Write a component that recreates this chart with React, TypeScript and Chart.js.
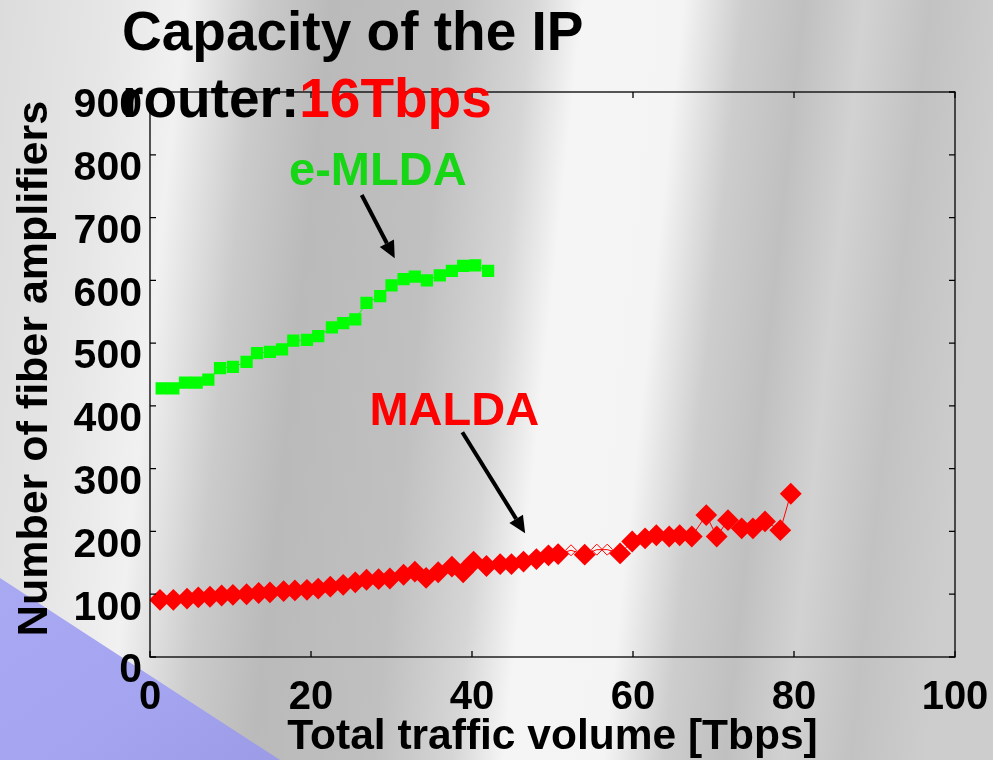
import React, { useEffect, useRef } from 'react';
import { Chart, registerables } from 'chart.js';

Chart.register(...registerables);

// ---- axis ticks ----
const xTicks = [0, 20, 40, 60, 80, 100];
const yTicks = [0, 100, 200, 300, 400, 500, 600, 700, 800, 900];

// ---- e-MLDA series ----
const emldaX = [1.45, 2.9, 4.35, 5.8, 7.25, 8.7, 10.3, 12.0, 13.3, 14.9, 16.4, 17.8, 19.5, 20.9, 22.6, 24.0, 25.5, 26.9, 28.6, 30.0, 31.5, 32.9, 34.4, 36.0, 37.5, 38.9, 40.4, 42.0];
const emldaY = [428, 428, 437, 437, 442, 460, 462, 470, 484, 486, 490, 504, 505, 511, 525, 532, 538, 564, 575, 592, 602, 606, 600, 608, 615, 623, 624, 615];

// ---- MALDA series ----
const maldaX = [1.24, 2.9, 4.6, 6.0, 7.45, 8.9, 10.3, 12.0, 13.5, 14.9, 16.6, 18.0, 19.5, 20.9, 22.4, 24.0, 25.5, 26.9, 28.4, 29.8, 31.5, 32.9, 34.3, 35.8, 37.5, 38.9, 40.2, 41.8, 43.5, 44.9, 46.4, 48.0, 49.5, 50.7, 52.3, 54.0, 55.5, 56.8, 58.4, 59.9, 61.5, 62.9, 64.5, 65.8, 67.3, 69.1, 70.4, 71.8, 73.5, 74.9, 76.4, 78.3, 79.6];
const maldaY = [91, 91, 93, 95, 96, 98, 99, 100, 102, 103, 105, 106, 107, 109, 112, 115, 119, 123, 124, 125, 131, 136, 126, 135, 144, 135, 152, 145, 148, 148, 152, 156, 162, 164, 170, 163, 171, 171, 165, 184, 189, 194, 192, 194, 192, 226, 192, 218, 205, 205, 216, 202, 260];
const maldaHollowIdx = [34, 36, 37];

// ---- annotations (data units) ----
const annotationText = ['e-MLDA', 'MALDA'];
const annotationColor = ['#16d616', '#ff0000'];
const annotationCenterX = [28.3, 37.8];
const annotationBaselineY = [752, 370];
const arrowFromX = [26.3, 38.8];
const arrowFromY = [736, 358];
const arrowToX = [30.4, 46.6];
const arrowToY = [635, 197];

const FONT = "'Liberation Sans', Arial, Helvetica, sans-serif";

const framePlugin = {
  id: 'frameAndNotes',
  afterDraw(chart: any) {
    const { ctx, chartArea: a, scales } = chart;
    const xs = scales.x;
    const ys = scales.y;
    ctx.save();
    ctx.strokeStyle = '#000';
    ctx.lineWidth = 1.3;
    ctx.strokeRect(a.left, a.top, a.right - a.left, a.bottom - a.top);
    const tl = 6;
    ctx.beginPath();
    xTicks.forEach((v) => {
      const p = xs.getPixelForValue(v);
      ctx.moveTo(p, a.bottom);
      ctx.lineTo(p, a.bottom - tl);
      ctx.moveTo(p, a.top);
      ctx.lineTo(p, a.top + tl);
    });
    yTicks.forEach((v) => {
      const p = ys.getPixelForValue(v);
      ctx.moveTo(a.left, p);
      ctx.lineTo(a.left + tl, p);
      ctx.moveTo(a.right, p);
      ctx.lineTo(a.right - tl, p);
    });
    ctx.stroke();

    // annotations
    annotationText.forEach((t, i) => {
      ctx.font = `bold 47px ${FONT}`;
      ctx.fillStyle = annotationColor[i];
      ctx.textAlign = 'center';
      ctx.textBaseline = 'alphabetic';
      ctx.fillText(t, xs.getPixelForValue(annotationCenterX[i]), ys.getPixelForValue(annotationBaselineY[i]));

      const x0 = xs.getPixelForValue(arrowFromX[i]);
      const y0 = ys.getPixelForValue(arrowFromY[i]);
      const x1 = xs.getPixelForValue(arrowToX[i]);
      const y1 = ys.getPixelForValue(arrowToY[i]);
      const ang = Math.atan2(y1 - y0, x1 - x0);
      const hl = 17;
      const hw = 8;
      const bx = x1 - hl * Math.cos(ang);
      const by = y1 - hl * Math.sin(ang);
      ctx.strokeStyle = '#000';
      ctx.fillStyle = '#000';
      ctx.lineWidth = 4;
      ctx.beginPath();
      ctx.moveTo(x0, y0);
      ctx.lineTo(bx, by);
      ctx.stroke();
      ctx.beginPath();
      ctx.moveTo(x1, y1);
      ctx.lineTo(bx + hw * Math.sin(ang), by - hw * Math.cos(ang));
      ctx.lineTo(bx - hw * Math.sin(ang), by + hw * Math.cos(ang));
      ctx.closePath();
      ctx.fill();
    });
    ctx.restore();
  },
};

function ChartCanvas() {
  const ref = useRef<HTMLCanvasElement | null>(null);
  useEffect(() => {
    if (!ref.current) return;
    const emlda = emldaX.map((x, i) => ({ x, y: emldaY[i] }));
    const malda = maldaX.map((x, i) => ({ x, y: maldaY[i] }));
    const hollow = new Set(maldaHollowIdx);
    const chart = new Chart(ref.current, {
      type: 'scatter',
      data: {
        datasets: [
          {
            label: 'MALDA',
            data: malda,
            showLine: true,
            borderColor: '#ff0000',
            borderWidth: 1,
            pointStyle: 'rectRot',
            pointRadius: malda.map((_, i) => (hollow.has(i) ? 5.5 : 9.5)),
            pointBackgroundColor: malda.map((_, i) => (hollow.has(i) ? 'rgba(0,0,0,0)' : '#ff0000')),
            pointBorderColor: '#ff0000',
            pointBorderWidth: malda.map((_, i) => (hollow.has(i) ? 1 : 2)),
          },
          {
            label: 'e-MLDA',
            data: emlda,
            showLine: true,
            borderColor: '#00ff00',
            borderWidth: 1,
            pointStyle: 'rect',
            pointRadius: 7.6,
            pointBackgroundColor: '#00ff00',
            pointBorderColor: '#00ff00',
            pointBorderWidth: 1.5,
          },
        ],
      },
      options: {
        animation: false,
        responsive: false,
        devicePixelRatio: 1,
        layout: { padding: { top: 92, right: 38, bottom: 0, left: 0 } },
        plugins: { legend: { display: false }, tooltip: { enabled: false }, title: { display: false } },
        scales: {
          x: {
            type: 'linear',
            min: 0,
            max: 100,
            afterFit: (s: any) => { s.height = 103; s.paddingLeft = 0; s.paddingRight = 0; },
            afterBuildTicks: (s: any) => { s.ticks = xTicks.map((v) => ({ value: v })); },
            grid: { display: false, drawTicks: false },
            border: { display: false },
            ticks: { color: '#000', font: { family: FONT, size: 40, weight: 'bold' }, padding: 17, maxRotation: 0, autoSkip: false },
            title: {
              display: true,
              text: 'Total traffic volume [Tbps]',
              color: '#000',
              font: { family: FONT, size: 42.5, weight: 'bold', lineHeight: 1 },
              padding: { top: 0, bottom: 1.5 },
            },
          },
          y: {
            type: 'linear',
            min: 0,
            max: 900,
            afterFit: (s: any) => { s.width = 150; },
            afterBuildTicks: (s: any) => { s.ticks = yTicks.map((v) => ({ value: v })); },
            grid: { display: false, drawTicks: false },
            border: { display: false },
            ticks: { color: '#000', font: { family: FONT, size: 41, weight: 'bold' }, padding: 8, labelOffset: 14, autoSkip: false },
            title: {
              display: true,
              text: ' Number of fiber amplifiers',
              color: '#000',
              font: { family: FONT, size: 43, weight: 'bold', lineHeight: 1 },
              padding: { top: 14, bottom: 0 },
            },
          },
        },
      },
      plugins: [framePlugin],
    } as any);
    return () => chart.destroy();
  }, []);
  return <canvas ref={ref} width={993} height={760} style={{ position: 'absolute', left: 0, top: 0, width: 993, height: 760, zIndex: 1 }} />;
}

export default function App() {
  return (
    <div style={{ position: 'fixed', left: 0, top: 0, width: 993, height: 760, overflow: 'hidden' }}>
      <div
        style={{
          position: 'absolute', inset: 0,
          background:
            'linear-gradient(96deg, #dcdcdc 0px, #e6e6e6 110px, #f1f1f1 185px, #cbcbcb 260px, #bababa 330px, #c0c0c0 450px, #d6d6d6 530px, #f5f5f5 580px, #f4f4f4 680px, #cdcdcd 740px, #c0c0c0 800px, #d2d2d2 860px, #c2c2c2 925px, #cdcdcd 1000px)',
        }}
      />
      <div
        style={{
          position: 'absolute', inset: 0,
          clipPath: 'polygon(0px 578px, 280px 760px, 0px 760px)',
          background: 'linear-gradient(145deg, #b2b2fa 0%, #a4a4f0 55%, #8e8ed8 80%, #a0a0ec 100%)',
        }}
      />
      <ChartCanvas />
      <div
        style={{
          position: 'absolute', left: 122, top: -2, zIndex: 2,
          font: `bold 55px/67px ${FONT}`, color: '#000', whiteSpace: 'pre',
        }}
      >
        {'Capacity of the IP'}
        <br />
        {'router:'}
        <span style={{ color: '#ff0000' }}>16Tbps</span>
      </div>
    </div>
  );
}
